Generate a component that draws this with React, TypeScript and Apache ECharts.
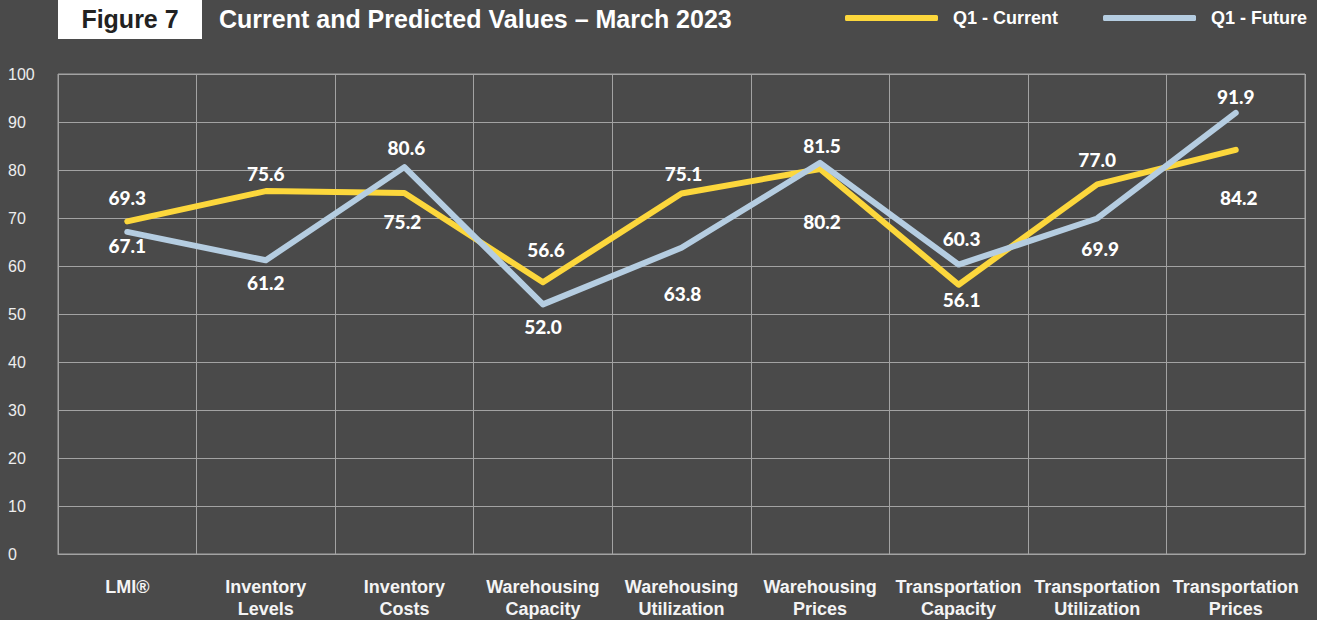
import React, { useEffect, useRef } from "react";
import * as echarts from "echarts";

const categories = [
  "LMI®",
  "Inventory\nLevels",
  "Inventory\nCosts",
  "Warehousing\nCapacity",
  "Warehousing\nUtilization",
  "Warehousing\nPrices",
  "Transportation\nCapacity",
  "Transportation\nUtilization",
  "Transportation\nPrices",
];
const currentValues = [69.3, 75.6, 75.2, 56.6, 75.1, 80.2, 56.1, 77.0, 84.2];
const futureValues = [67.1, 61.2, 80.6, 52.0, 63.8, 81.5, 60.3, 69.9, 91.9];
// label vertical offsets (px) relative to each point
const currentLabelDy = [-24, -18, 28, -33, -20, 52, 15, -25, 48];
const futureLabelDy = [14, 22, -20, 22, 46, -17, -26, 30, -16];
const currentLabelDx = [0, 0, -2, 3, 2, 2, 3, 0, 3];
const futureLabelDx = [0, 0, 2, 0, 1, 2, 3, 3, 0];

const yTicks = { min: 0, max: 100, interval: 10 };
const titleText = "Current and Predicted Values – March 2023";
const figureText = "Figure 7";
const seriesNames = ["Q1 - Current", "Q1 - Future"];

const BG = "#4a4a4a";
const GRID = "#a3a3a3";
const YELLOW = "#fcd73c";
const BLUE = "#b5cde1";

const labelStyle = {
  show: true,
  position: "inside",
  color: "#ffffff",
  fontFamily: "Lato",
  fontWeight: 900,
  fontSize: 19,
};

function buildData(values: number[], dy: number[], dx: number[]) {
  return values.map((v, i) => ({
    value: v,
    label: { ...labelStyle, offset: [dx[i], dy[i]], formatter: v.toFixed(1) },
  }));
}

export default function App() {
  const ref = useRef<HTMLDivElement>(null);
  useEffect(() => {
    if (!ref.current) return;
    const chart = echarts.init(ref.current, null, { renderer: "svg" });
    chart.setOption({
      animation: false,
      backgroundColor: BG,
      grid: {
        left: 58,
        right: 12,
        top: 74,
        bottom: 66,
        show: true,
        borderColor: GRID,
        borderWidth: 1,
      },
      legend: {
        left: 845,
        top: 9,
        padding: 0,
        itemWidth: 93,
        itemHeight: 6,
        itemGap: 45,
        icon: "roundRect",
        data: seriesNames,
        textStyle: {
          color: "#ffffff",
          fontFamily: "Liberation Sans",
          fontWeight: "bold",
          fontSize: 18,
          padding: [0, 0, 0, 10],
        },
      },
      graphic: [
        {
          type: "rect",
          shape: { x: 58, y: 0, width: 144, height: 39 },
          style: { fill: "#ffffff" },
        },
        {
          type: "text",
          x: 130,
          y: 19,
          style: {
            text: figureText,
            fill: "#222222",
            font: "bold 25px 'Liberation Sans'",
            textAlign: "center",
            textVerticalAlign: "middle",
          },
        },
        {
          type: "text",
          x: 219,
          y: 19,
          style: {
            text: titleText,
            fill: "#ffffff",
            font: "bold 25px 'Liberation Sans'",
            textAlign: "left",
            textVerticalAlign: "middle",
          },
        },
      ],
      xAxis: {
        type: "category",
        data: categories,
        boundaryGap: true,
        axisLine: { show: true, lineStyle: { color: GRID, width: 1 } },
        axisTick: { show: false },
        splitLine: { show: true, lineStyle: { color: GRID, width: 1 } },
        axisLabel: {
          color: "#f4f4f4",
          fontFamily: "Liberation Sans",
          fontWeight: "bold",
          fontSize: 18,
          lineHeight: 22,
          margin: 22,
          interval: 0,
        },
      },
      yAxis: {
        type: "value",
        min: yTicks.min,
        max: yTicks.max,
        interval: yTicks.interval,
        axisLine: { show: false },
        axisTick: { show: false },
        splitLine: { show: true, lineStyle: { color: GRID, width: 1 } },
        axisLabel: {
          color: "#eeeeee",
          fontFamily: "Liberation Sans",
          fontSize: 16,
          align: "left",
          margin: 50,
        },
      },
      series: [
        {
          name: seriesNames[0],
          type: "line",
          data: buildData(currentValues, currentLabelDy, currentLabelDx),
          symbol: "circle",
          symbolSize: 1,
          showSymbol: true,
          itemStyle: { color: YELLOW },
          lineStyle: { color: YELLOW, width: 6, cap: "round", join: "round" },
          z: 3,
        },
        {
          name: seriesNames[1],
          type: "line",
          data: buildData(futureValues, futureLabelDy, futureLabelDx),
          symbol: "circle",
          symbolSize: 1,
          showSymbol: true,
          itemStyle: { color: BLUE },
          lineStyle: { color: BLUE, width: 6, cap: "round", join: "round" },
          z: 4,
        },
      ],
    });
    return () => chart.dispose();
  }, []);
  return (
    <div
      ref={ref}
      style={{ position: "absolute", left: 0, top: 0, width: 1317, height: 620 }}
    />
  );
}
